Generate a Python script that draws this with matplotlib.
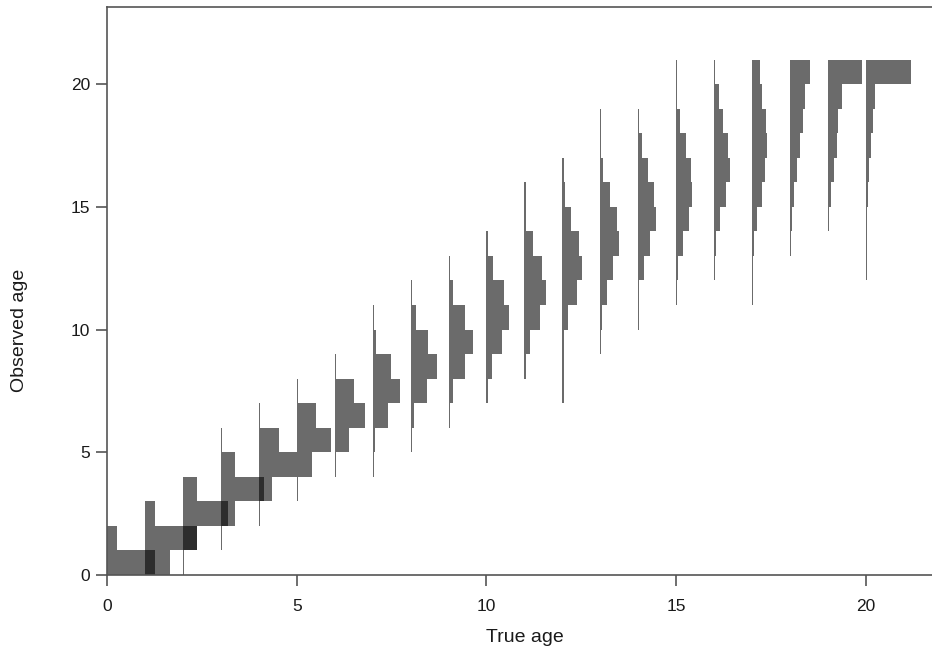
import matplotlib
matplotlib.use("Agg")
import matplotlib.pyplot as plt

# true age of each histogram column
true_ages = list(range(21))

# lowest observed-age bin drawn for each true age
obs_start = [0, 0, 0, 1, 2, 3, 4, 4, 5, 6, 7, 8, 7, 9, 10, 11, 12, 11, 13, 14, 12]

# horizontal bar lengths (x units) for consecutive observed-age bins, starting at obs_start
bar_widths = [
    [1.26, 0.27],
    [0.66, 1.36, 0.26],
    [0.03, 0.36, 1.20, 0.36],
    [0.03, 0.37, 1.13, 0.37, 0.03],
    [0.03, 0.34, 1.00, 0.52, 0.03],
    [0.03, 0.40, 0.89, 0.52, 0.03],
    [0.03, 0.37, 0.81, 0.50, 0.03],
    [0.03, 0.05, 0.41, 0.73, 0.48, 0.08, 0.03],
    [0.03, 0.10, 0.42, 0.69, 0.46, 0.14, 0.03],
    [0.03, 0.12, 0.43, 0.65, 0.43, 0.13, 0.03],
    [0.03, 0.15, 0.40, 0.60, 0.46, 0.18, 0.03],
    [0.04, 0.15, 0.40, 0.56, 0.46, 0.22, 0.03, 0.03],
    [0.03, 0.03, 0.03, 0.16, 0.38, 0.51, 0.45, 0.22, 0.07, 0.03],
    [0.03, 0.04, 0.17, 0.34, 0.50, 0.43, 0.25, 0.08, 0.03, 0.03],
    [0.03, 0.03, 0.15, 0.31, 0.46, 0.41, 0.25, 0.09, 0.03],
    [0.03, 0.04, 0.18, 0.33, 0.42, 0.38, 0.25, 0.10, 0.03, 0.03],
    [0.03, 0.05, 0.16, 0.30, 0.41, 0.37, 0.24, 0.13, 0.03],
    [0.03, 0.03, 0.05, 0.14, 0.25, 0.34, 0.40, 0.36, 0.25, 0.21],
    [0.03, 0.04, 0.11, 0.18, 0.26, 0.33, 0.40, 0.53],
    [0.03, 0.07, 0.16, 0.23, 0.27, 0.36, 0.89],
    [0.03, 0.03, 0.03, 0.06, 0.09, 0.13, 0.18, 0.24, 1.19],
]

x_ticks = [0, 5, 10, 15, 20]
y_ticks = [0, 5, 10, 15, 20]

fig = plt.figure(figsize=(9.32, 6.54), dpi=100)
ax = fig.add_axes([107 / 932, 1 - 575 / 654, 1 - 107 / 932, (575 - 7) / 654])

for age, start, widths in zip(true_ages, obs_start, bar_widths):
    bins = [start + i for i in range(len(widths))]
    ax.barh(bins, widths, left=age, height=1, align="edge",
            color="black", alpha=0.58, linewidth=0)

ax.set_xlim(0, 21.74)
ax.set_ylim(0, 23.14)
ax.set_xticks(x_ticks)
ax.set_yticks(y_ticks)

for side in ["left", "bottom", "top"]:
    ax.spines[side].set_color("#555555")
    ax.spines[side].set_linewidth(1.2)
ax.spines["right"].set_visible(False)

ax.tick_params(direction="out", length=8, width=1.2, color="#555555",
               labelsize=12.5, labelcolor="#1a1a1a")
ax.tick_params(axis="x", pad=9)
ax.tick_params(axis="y", pad=4)
for lab in ax.get_xticklabels() + ax.get_yticklabels():
    lab.set_family(["Liberation Sans", "DejaVu Sans"])

label_font = ["Liberation Sans", "DejaVu Sans"]
fig.text(525 / 932, 1 - 637 / 654, "True age", ha="center", va="center",
         fontsize=14, family=label_font, color="#1a1a1a")
fig.text(20 / 932, 1 - 330 / 654, "Observed age", ha="center", va="center",
         rotation=90, fontsize=14, family=label_font, color="#1a1a1a")

fig.savefig("out.png", dpi=100)
